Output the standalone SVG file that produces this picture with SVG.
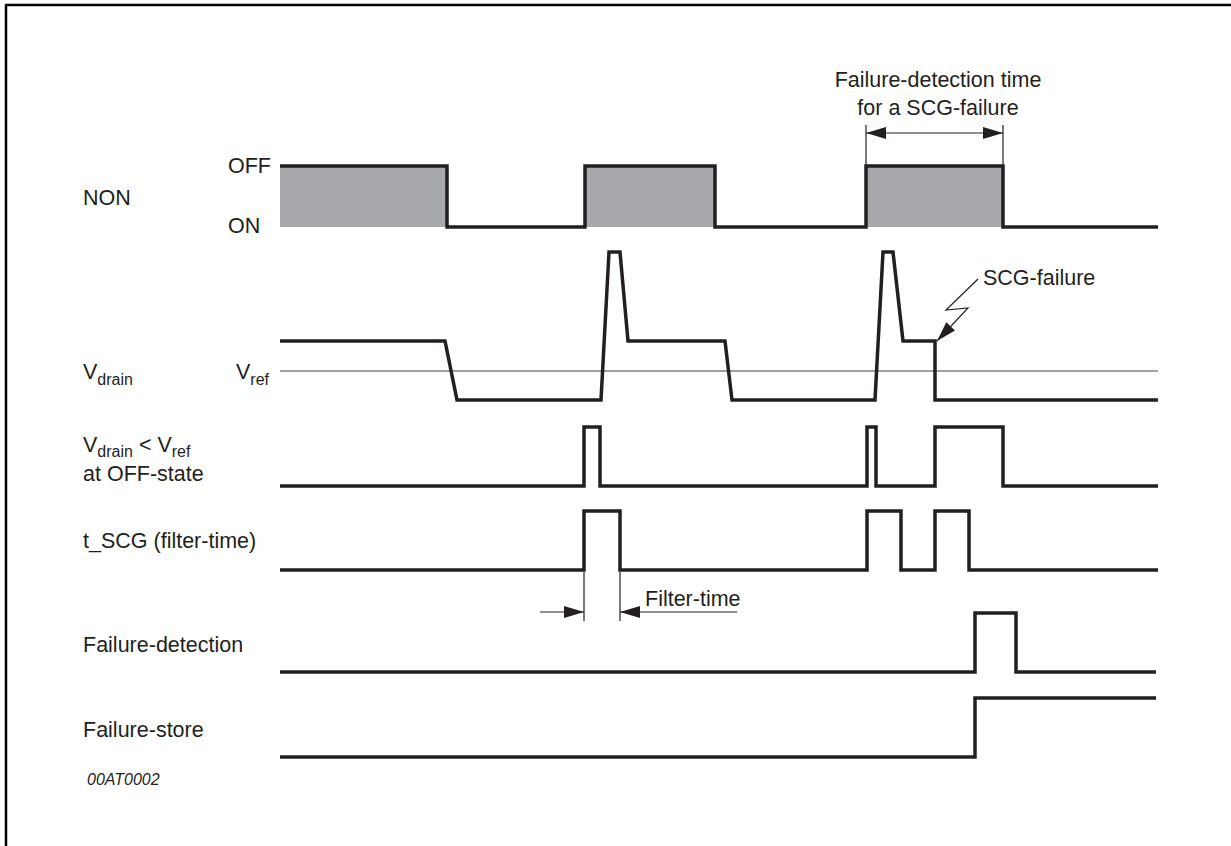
<svg xmlns="http://www.w3.org/2000/svg" width="1231" height="846" viewBox="0 0 1231 846">
<style>
text{font-family:"Liberation Sans",Arial,sans-serif;font-size:21.5px;fill:#231f20}
.sub{font-size:16px}
.wave{fill:none;stroke:#231f20;stroke-width:3.5;stroke-linejoin:miter;stroke-linecap:butt}
.fill{fill:#a7a9ac;stroke:none}
.thin{fill:none;stroke:#231f20;stroke-width:1.2}
.ref{fill:none;stroke:#808080;stroke-width:1.5}
.frame{fill:none;stroke:#000;stroke-width:2.5}
</style>
<defs>
<marker id="arr" markerUnits="userSpaceOnUse" viewBox="0 0 20 12" markerWidth="20" markerHeight="12" refX="20" refY="6" orient="auto-start-reverse">
<path d="M0,0 L20,6 L0,12 z" fill="#231f20"/>
</marker>
</defs>
<rect width="1231" height="846" fill="#fff"/>
<path class="frame" d="M6,846 V5 H1231"/>

<g id="NON">
<text x="83" y="205">NON</text>
<text x="228" y="173">OFF</text>
<text x="228" y="233">ON</text>
<rect class="fill" x="280" y="166" width="167" height="61"/>
<rect class="fill" x="585" y="166" width="130" height="61"/>
<rect class="fill" x="866" y="166" width="137" height="61"/>
<path class="wave" d="M280,166 H447 V227 H585 V166 H715 V227 H866 V166 H1003 V227 H1158"/>
</g>

<g id="Vdrain">
<text x="83" y="379">V<tspan class="sub" dy="6">drain</tspan></text>
<text x="236" y="379">V<tspan class="sub" dy="6">ref</tspan></text>
<line class="ref" x1="280" y1="371" x2="1158" y2="371"/>
<path class="wave" d="M280,341 H445 L457,400 H601 L609,252 H620 L628,341 H725 L732,400 H875 L883,252 H893 L903,341 H935 V400 H1158"/>
<text x="983" y="285">SCG-failure</text>
</g>

<g id="Vcompare">
<text x="83" y="452">V<tspan class="sub" dy="5">drain</tspan><tspan dy="-5"> &lt; V</tspan><tspan class="sub" dy="5">ref</tspan></text>
<text x="83" y="481">at OFF-state</text>
<path class="wave" d="M280,486 H584 V427 H600 V486 H867 V427 H876 V486 H935 V427 H1003 V486 H1158"/>
</g>

<g id="tSCG">
<text x="83" y="548">t_SCG (filter-time)</text>
<path class="wave" d="M280,570 H584 V511 H620 V570 H867 V511 H901 V570 H935 V511 H969 V570 H1158"/>
</g>

<g id="FailureDetection">
<text x="83" y="652">Failure-detection</text>
<path class="wave" d="M280,672 H975 V613 H1016 V672 H1156"/>
</g>

<g id="FailureStore">
<text x="83" y="737">Failure-store</text>
<path class="wave" d="M280,757 H975 V698 H1156"/>
</g>

<g id="labels">
<text x="938" y="87" text-anchor="middle">Failure-detection time</text>
<text x="938" y="115" text-anchor="middle">for a SCG-failure</text>
<text x="645" y="606">Filter-time</text>
<text x="87" y="785" style="font-size:16px;font-style:italic">00AT0002</text>
</g>

<g id="connectors">
<line class="thin" x1="866" y1="125" x2="866" y2="165"/>
<line class="thin" x1="1003" y1="125" x2="1003" y2="165"/>
<line class="thin" x1="866" y1="133" x2="1003" y2="133" marker-start="url(#arr)" marker-end="url(#arr)"/>
<line class="thin" x1="584" y1="572" x2="584" y2="621"/>
<line class="thin" x1="620" y1="572" x2="620" y2="621"/>
<line class="thin" x1="540" y1="612" x2="584" y2="612" marker-end="url(#arr)"/>
<line class="thin" x1="737" y1="612" x2="620" y2="612" marker-end="url(#arr)"/>
<polyline class="thin" points="978,279 946,310 968,308 937,341" marker-end="url(#arr)"/>
</g>
</svg>
